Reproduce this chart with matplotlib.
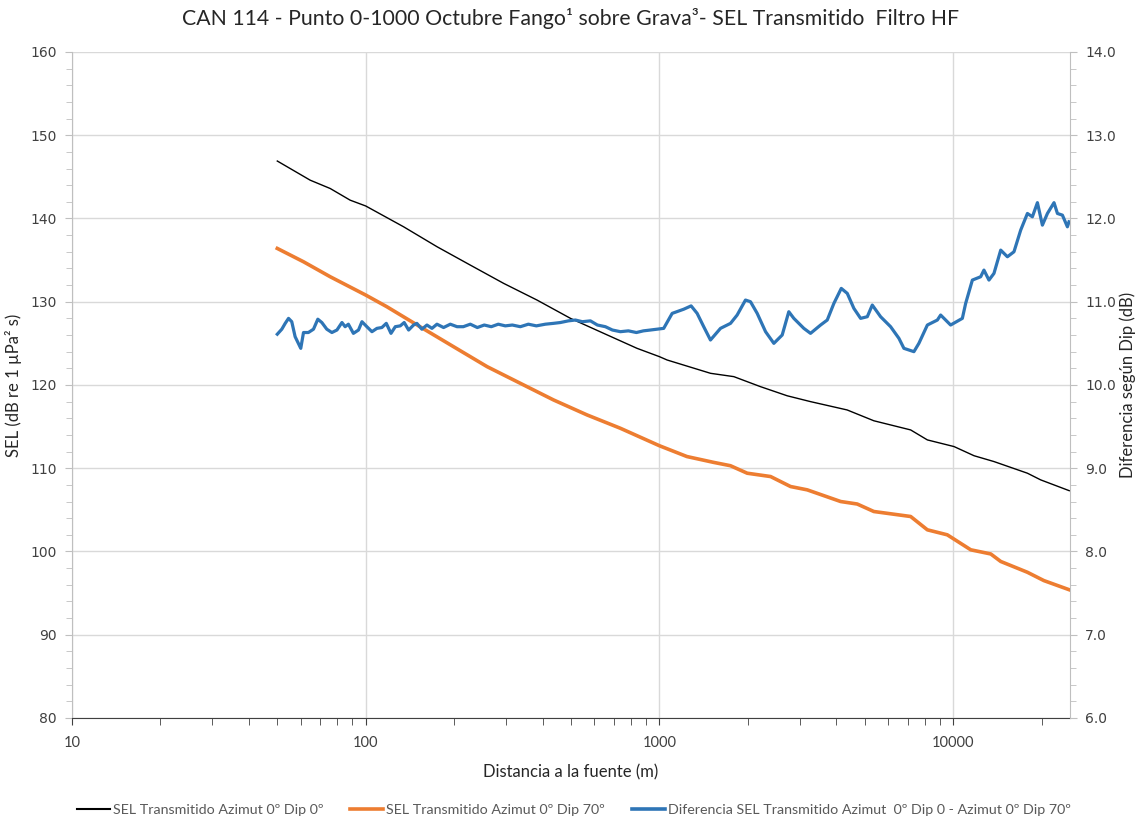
import matplotlib
matplotlib.use("Agg")
import matplotlib.pyplot as plt
from matplotlib.ticker import FixedLocator, NullFormatter, LogLocator, MultipleLocator, FormatStrFormatter
import numpy as np

# --- SEL, azimut 0º dip 0º (left axis, dB re 1 µPa² s)
dist_dip0 = [50, 64.7, 75.7, 88.5, 100, 134.6, 175, 227, 295, 383, 498, 646, 839,
             1000, 1062, 1493, 1792, 2207, 2723, 3268, 4355, 5370, 7166, 8170,
             10070, 11780, 13770, 17900, 19860, 24850]
sel_dip0 = [146.9, 144.6, 143.6, 142.2, 141.5, 139.0, 136.6, 134.4, 132.2, 130.2, 128.0, 126.2, 124.4,
            123.4, 123.0, 121.4, 121.0, 119.8, 118.7, 118.0, 117.0, 115.7, 114.6, 113.4,
            112.6, 111.5, 110.8, 109.4, 108.6, 107.3]

# --- SEL, azimut 0º dip 70º (left axis)
dist_dip70 = [50, 61.4, 75.7, 100, 118, 153, 199, 259, 336, 436, 567, 736, 1000,
              1241, 1530, 1745, 1990, 2390, 2795, 3186, 4140, 4713, 5370, 7166,
              8170, 9550, 11480, 13430, 14520, 17900, 20370, 24850]
sel_dip70 = [136.4, 134.8, 133.0, 130.8, 129.4, 127.0, 124.6, 122.2, 120.2, 118.2, 116.4, 114.8, 112.7,
             111.4, 110.7, 110.3, 109.4, 109.0, 107.8, 107.4, 106.0, 105.7, 104.8, 104.2,
             102.6, 102.0, 100.2, 99.7, 98.8, 97.5, 96.5, 95.4]

# --- Difference between both dips (right axis, dB)
dist_diff = [50, 51.8, 53.2, 54.6, 56.0, 57.5, 60.1, 61.4, 63.8, 66.4, 68.7, 70.9, 73.7, 76.7,
             79.8, 83.0, 85.1, 87.3, 90.8, 94.5, 97.1, 100.9, 105, 109.2, 113.5, 117.5,
             121.9, 126.1, 131.1, 135.2, 140, 145.5, 149.3, 155.3, 161.6, 168.1, 174.8,
             184.1, 194.1, 204.6, 214.9, 227.0, 239.9, 253.3, 267.6, 282.7, 298.7, 315.6,
             336.1, 357.9, 381.0, 408.9, 435.5, 459.9, 489.7, 517.4, 546.6, 582.1, 614.9,
             654.6, 691.6, 736.3, 784.1, 834.8, 882.0, 931.8, 1034, 1105, 1210, 1282,
             1344, 1415, 1492, 1614, 1746, 1839, 1963, 2042, 2152, 2298, 2452, 2618,
             2757, 2868, 3102, 3269, 3537, 3727, 3926, 4160, 4361, 4592, 4841, 5102,
             5305, 5662, 6124, 6537, 6798, 7352, 7645, 8170, 8836, 9067, 9804, 10748,
             11030, 11626, 12410, 12730, 13240, 13770, 14520, 15300, 16110, 16980,
             17900, 18610, 19360, 20130, 20940, 22050, 22650, 23550, 24490, 24800]
diff_db = [10.61, 10.67, 10.74, 10.80, 10.76, 10.58, 10.44, 10.63, 10.63, 10.67, 10.79, 10.75, 10.67, 10.63,
           10.66, 10.75, 10.70, 10.73, 10.62, 10.66, 10.76, 10.70, 10.64, 10.68, 10.69, 10.74,
           10.62, 10.70, 10.71, 10.75, 10.66, 10.72, 10.74, 10.67, 10.72, 10.68, 10.73,
           10.69, 10.73, 10.70, 10.70, 10.73, 10.69, 10.72, 10.70, 10.73, 10.71, 10.72,
           10.70, 10.73, 10.71, 10.73, 10.74, 10.75, 10.77, 10.78, 10.76, 10.77, 10.72,
           10.70, 10.66, 10.64, 10.65, 10.63, 10.65, 10.66, 10.68, 10.86, 10.91, 10.95,
           10.86, 10.70, 10.54, 10.68, 10.74, 10.84, 11.02, 11.00, 10.86, 10.64, 10.50, 10.60,
           10.88, 10.80, 10.68, 10.62, 10.72, 10.78, 10.98, 11.16, 11.10, 10.92, 10.80, 10.82,
           10.96, 10.82, 10.70, 10.56, 10.44, 10.40, 10.50, 10.72, 10.78, 10.84, 10.72, 10.80,
           10.98, 11.26, 11.30, 11.38, 11.26, 11.34, 11.62, 11.54, 11.60, 11.86,
           12.06, 12.02, 12.19, 11.92, 12.06, 12.19, 12.06, 12.04, 11.90, 11.96]

legend_labels = ["SEL Transmitido Azimut 0º Dip 0º",
                 "SEL Transmitido Azimut 0º Dip 70º",
                 "Diferencia SEL Transmitido Azimut  0º Dip 0 - Azimut 0º Dip 70º"]

C_BLACK = "#000000"
C_ORANGE = "#ED7D31"
C_BLUE = "#2E75B6"
C_GRID = "#D9D9D9"
C_TEXT = "#404040"
C_AXIS = "#BFBFBF"

plt.rcParams["font.family"] = ["Lato", "DejaVu Sans"]

fig = plt.figure(figsize=(11.41, 8.21), dpi=100)
ax = fig.add_axes([0.0631, 0.1255, 0.8747, 0.8112])
ax2 = ax.twinx()

ax.plot(dist_dip0, sel_dip0, color=C_BLACK, lw=1.0, zorder=3)
ax.plot(dist_dip70, sel_dip70, color=C_ORANGE, lw=2.6, zorder=3)
ax2.plot(dist_diff, diff_db, color=C_BLUE, lw=2.3, zorder=3)

ax.set_xscale("log")
ax.set_xlim(10, 25000)
ax.set_ylim(80, 160)
ax2.set_ylim(6.0, 14.0)

ax.yaxis.set_major_locator(MultipleLocator(10))
ax.yaxis.set_minor_locator(MultipleLocator(2))
ax2.yaxis.set_major_locator(MultipleLocator(1))
ax2.yaxis.set_minor_locator(MultipleLocator(0.2))
ax2.yaxis.set_major_formatter(FormatStrFormatter("%.1f"))

ax.xaxis.set_major_locator(FixedLocator([10, 100, 1000, 10000]))
ax.xaxis.set_major_formatter(FormatStrFormatter("%d"))
ax.xaxis.set_minor_locator(LogLocator(base=10, subs=np.arange(2, 10)))
ax.xaxis.set_minor_formatter(NullFormatter())

ax.grid(True, which="major", axis="both", color=C_GRID, lw=1.0, zorder=0)
ax.set_axisbelow(True)

for a in (ax, ax2):
    for s in a.spines.values():
        s.set_visible(False)
ax.spines["bottom"].set_visible(True)
ax.spines["bottom"].set_color("#404040")
ax.spines["left"].set_visible(True)
ax.spines["left"].set_color(C_AXIS)
ax2.spines["right"].set_visible(True)
ax2.spines["right"].set_color(C_AXIS)

ax.tick_params(axis="x", which="both", direction="out", length=5, color="#404040",
               labelsize=10.5, labelcolor=C_TEXT, pad=8)
ax.tick_params(axis="y", which="major", direction="out", length=5, color=C_AXIS,
               labelsize=10, labelcolor=C_TEXT, pad=6)
ax.tick_params(axis="y", which="minor", direction="out", length=4, color=C_AXIS)
ax2.tick_params(axis="y", which="major", direction="out", length=5, color=C_AXIS,
                labelsize=10, labelcolor=C_TEXT, pad=6)
ax2.tick_params(axis="y", which="minor", direction="out", length=4, color=C_AXIS)
for lab in ax.get_yticklabels() + ax2.get_yticklabels():
    lab.set_family(["DejaVu Sans"])

ax.set_xlabel("Distancia a la fuente (m)", fontsize=12, color="#262626")
ax.xaxis.set_label_coords(0.5, -0.07)
ax.set_ylabel("SEL (dB re 1 µPa² s)", fontsize=12, color="#262626")
ax.yaxis.set_label_coords(-0.05, 0.5)
ax2.set_ylabel("Diferencia según Dip (dB)", fontsize=12, color="#262626")
ax2.yaxis.set_label_coords(1.05, 0.5)

fig.suptitle("CAN 114 - Punto 0-1000 Octubre Fango¹ sobre Grava³- SEL Transmitido  Filtro HF",
             fontsize=15.3, color="#262626", y=0.99)

h1, = ax.plot([], [], color=C_BLACK, lw=1.5)
h2, = ax.plot([], [], color=C_ORANGE, lw=2.6)
h3, = ax.plot([], [], color=C_BLUE, lw=2.6)
leg = fig.legend([h1, h2, h3], legend_labels, loc="lower center", bbox_to_anchor=(0.503, -0.01),
                 ncol=3, frameon=False, fontsize=10.3, handlelength=2.3, handletextpad=0.2,
                 columnspacing=1.9, labelcolor="#595959")

fig.savefig("out.png", dpi=100)
